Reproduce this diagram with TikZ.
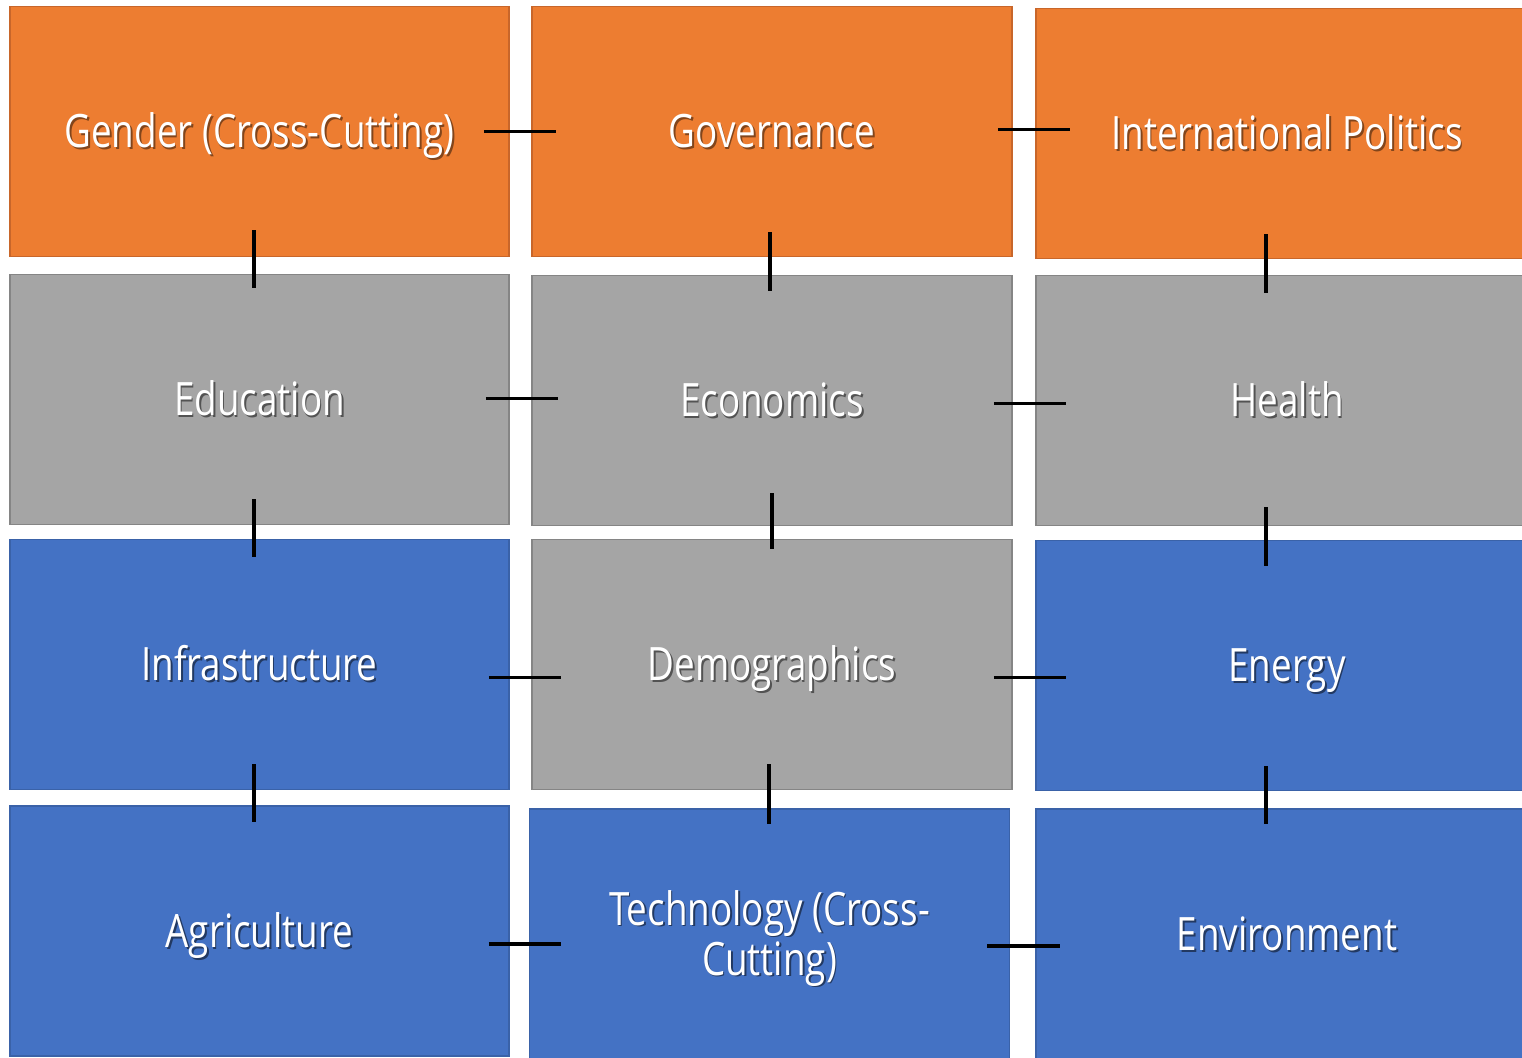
\documentclass[tikz,border=0pt]{standalone}
\usepackage{fontspec}
\setmainfont[FakeStretch=0.8]{Open Sans}
\usepackage{tikz, xcolor}
\usetikzlibrary{positioning}
\definecolor{areaorange}{HTML}{ED7D31}
\definecolor{areaorangeline}{HTML}{C8662A}
\definecolor{areagray}{HTML}{A5A5A5}
\definecolor{areagrayline}{HTML}{858585}
\definecolor{areablue}{HTML}{4472C4}
\definecolor{areablueline}{HTML}{3A62A8}
\colorlet{areashadow}{black!40}
\newcommand{\shadowed}[1]{\leavevmode\rlap{\kern0.9pt\raisebox{-0.9pt}{\textcolor{areashadow}{#1}}}#1}

\begin{document}
\begin{tikzpicture}[x=0.5pt,y=-0.5pt]
\tikzset{AREA/.style={draw,rectangle,line width=0.8pt,text=white,align=center,inner sep=0pt,minimum height=125pt,text height=18pt,text depth=1.5pt,font=\fontsize{23}{25}\selectfont}}
\tikzset{ORANGE AREA/.style={AREA,fill=areaorange,draw=areaorangeline,execute at begin node={\colorlet{areashadow}{areaorange!55!black}}}}
\tikzset{GRAY AREA/.style={AREA,fill=areagray,draw=areagrayline,execute at begin node={\colorlet{areashadow}{areagray!50!black}}}}
\tikzset{BLUE AREA/.style={AREA,fill=areablue,draw=areablueline,execute at begin node={\colorlet{areashadow}{areablue!50!black}}}}

\tikzset{LEFT COL/.style={minimum width=249.5pt}}
\tikzset{MID COL/.style={minimum width=240pt}}
\tikzset{RIGHT COL/.style={minimum width=251pt}}

\tikzset{LINK/.style={draw,line width=1.6pt}}

\useasboundingbox (0,0) rectangle (1522,1058);
\clip (0,0) rectangle (1522,1058);

\node[ORANGE AREA,LEFT COL] (gender) at (259.5,131.5) {\shadowed{Gender (Cross-Cutting)}};
\node[ORANGE AREA,MID COL] (governance) at (772,131.5) {\shadowed{Governance}};
\node[ORANGE AREA,RIGHT COL] (politics) at (1287,133.5) {\shadowed{International Politics}};

\node[GRAY AREA,LEFT COL] (education) at (259.5,399.5) {\shadowed{Education}};
\node[GRAY AREA,MID COL] (economics) at (772,400.5) {\shadowed{Economics}};
\node[GRAY AREA,RIGHT COL] (health) at (1287,400.5) {\shadowed{Health}};

\node[BLUE AREA,LEFT COL] (infrastructure) at (259.5,664.5) {\shadowed{Infrastructure}};
\node[GRAY AREA,MID COL] (demographics) at (772,664.5) {\shadowed{Demographics}};
\node[BLUE AREA,RIGHT COL] (energy) at (1287,665.5) {\shadowed{Energy}};

\node[BLUE AREA,LEFT COL] (agriculture) at (259.5,931) {\shadowed{Agriculture}};
\node[BLUE AREA,MID COL,text height=44pt,text depth=3pt] (technology) at (769.5,934) {\shadowed{Technology (Cross-}\\\shadowed{Cutting)}};
\node[BLUE AREA,RIGHT COL] (environment) at (1287,934) {\shadowed{Environment}};

% across the rows
\path[LINK] ([xshift=-13pt]gender.east) -- ([xshift=12.5pt]governance.west);
\path[LINK] ([xshift=-7.5pt,yshift=1pt]governance.east) -- ([xshift=17.5pt,yshift=2pt]politics.west);
\path[LINK] ([xshift=-12pt,yshift=0.5pt]education.east) -- ([xshift=13.5pt,yshift=1pt]economics.west);
\path[LINK] ([xshift=-9.5pt,yshift=-1.5pt]economics.east) -- ([xshift=15.5pt,yshift=-1.5pt]health.west);
\path[LINK] ([xshift=-10.5pt,yshift=-6.5pt]infrastructure.east) -- ([xshift=15pt,yshift=-6.5pt]demographics.west);
\path[LINK] ([xshift=-9.5pt,yshift=-6.5pt]demographics.east) -- ([xshift=15.5pt,yshift=-6pt]energy.west);
\path[LINK] ([xshift=-10.5pt,yshift=-6.5pt]agriculture.east) -- ([xshift=16pt,yshift=-5pt]technology.west);
\path[LINK] ([xshift=-11.5pt,yshift=-6pt]technology.east) -- ([xshift=12.5pt,yshift=-6pt]environment.west);

% down the columns
\path[LINK] ([xshift=-2.75pt,yshift=13.5pt]gender.south) -- ([xshift=-2.75pt,yshift=-7pt]education.north);
\path[LINK] ([xshift=-2.75pt,yshift=13pt]education.south) -- ([xshift=-2.75pt,yshift=-9pt]infrastructure.north);
\path[LINK] ([xshift=-2.75pt,yshift=13pt]infrastructure.south) -- ([xshift=-2.75pt,yshift=-8.5pt]agriculture.north);
\path[LINK] ([xshift=-1pt,yshift=12.5pt]governance.south) -- ([xshift=-1pt,yshift=-8pt]economics.north);
\path[LINK] ([yshift=16.5pt]economics.south) -- ([yshift=-5pt]demographics.north);
\path[LINK] ([xshift=-1.5pt,yshift=13pt]demographics.south) -- ([xshift=-0.25pt,yshift=-8pt]technology.north);
\path[LINK] ([xshift=-10.5pt,yshift=12.5pt]politics.south) -- ([xshift=-10.5pt,yshift=-9pt]health.north);
\path[LINK] ([xshift=-10.5pt,yshift=9.5pt]health.south) -- ([xshift=-10.5pt,yshift=-13pt]energy.north);
\path[LINK] ([xshift=-10.5pt,yshift=12.5pt]energy.south) -- ([xshift=-10.5pt,yshift=-8pt]environment.north);
\end{tikzpicture}
\end{document}
